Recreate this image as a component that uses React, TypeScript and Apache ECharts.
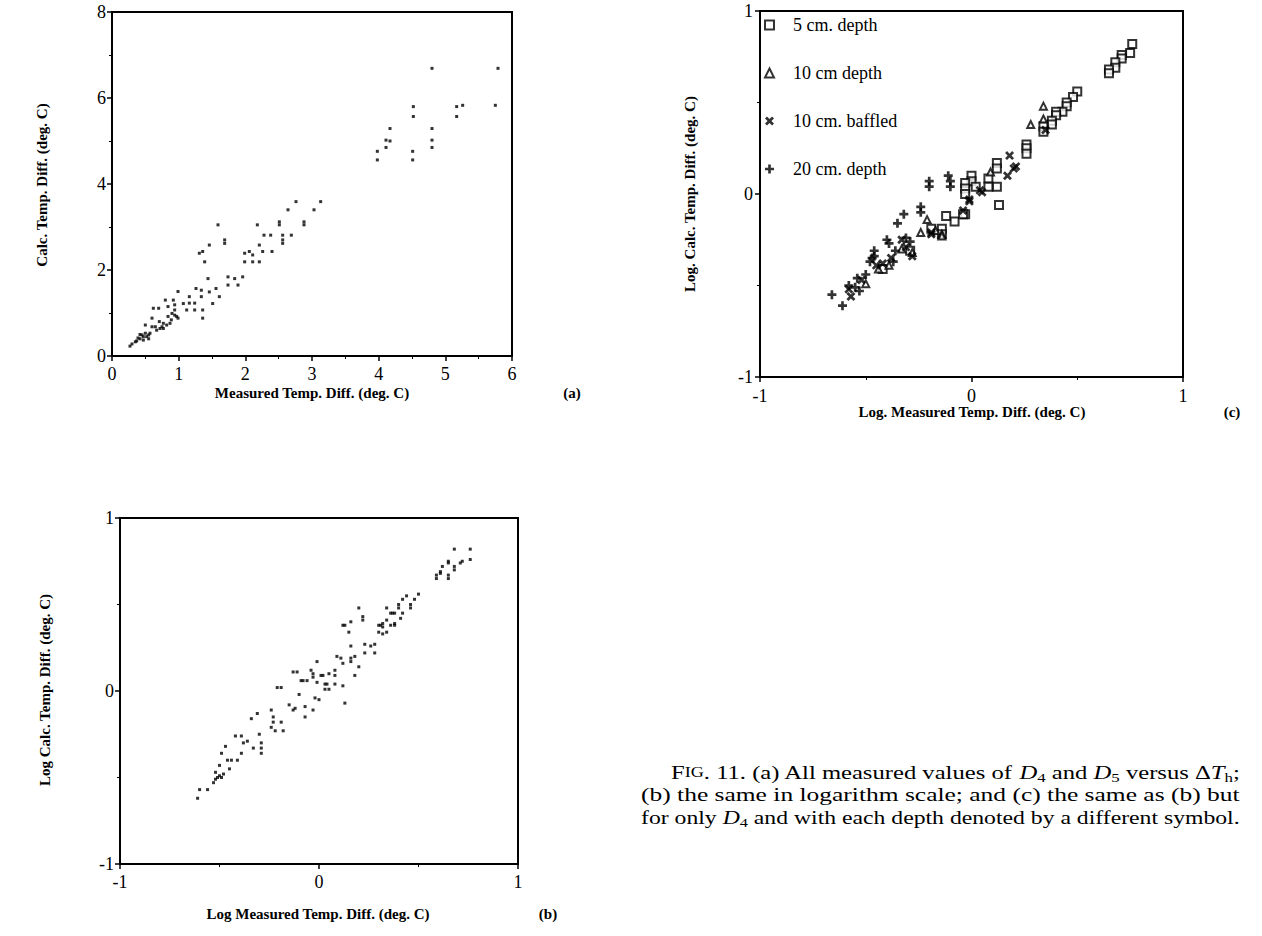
import React, { useEffect, useRef } from "react";
import * as echarts from "echarts";

const FONT = "'Liberation Serif', 'Times New Roman', serif";

// Panel (a): measured vs calculated temperature difference (deg. C)
const aPoints: number[][] = [
  [0.27, 0.23], [0.3, 0.28], [0.35, 0.33], [0.37, 0.35], [0.39, 0.42], [0.42, 0.4], [0.42, 0.5], [0.45, 0.49],
  [0.47, 0.45], [0.47, 0.37], [0.5, 0.53], [0.52, 0.45], [0.55, 0.49], [0.55, 0.4], [0.57, 0.53], [0.5, 0.72],
  [0.6, 0.88], [0.6, 0.68], [0.62, 1.11], [0.65, 0.68], [0.67, 0.6], [0.7, 1.11], [0.71, 0.8], [0.72, 0.64],
  [0.75, 0.68], [0.77, 0.76], [0.77, 0.64], [0.8, 1.3], [0.82, 0.72], [0.84, 1.15], [0.84, 0.92], [0.87, 0.76],
  [0.89, 0.84], [0.9, 0.99], [0.92, 1.3], [0.94, 1.07], [0.94, 1.19], [0.94, 0.95], [0.97, 0.92], [0.99, 1.5],
  [0.99, 0.88], [1.07, 1.22], [1.12, 1.07], [1.16, 1.38], [1.16, 1.23], [1.24, 1.23], [1.24, 1.07], [1.26, 1.57],
  [1.34, 1.53], [1.34, 1.38], [1.36, 1.07], [1.36, 0.88], [1.31, 2.39], [1.36, 2.43], [1.39, 2.19], [1.44, 1.8],
  [1.46, 2.58], [1.46, 1.49], [1.51, 1.22], [1.56, 1.57], [1.59, 3.05], [1.61, 1.38], [1.69, 2.7], [1.69, 2.62],
  [1.74, 1.84], [1.74, 1.65], [1.84, 1.8], [1.89, 1.65], [1.96, 1.84], [1.99, 2.39], [1.99, 2.19], [2.06, 2.43],
  [2.11, 2.35], [2.11, 2.19], [2.18, 3.05], [2.21, 2.58], [2.21, 2.19], [2.26, 2.43], [2.28, 2.81], [2.38, 2.81],
  [2.4, 2.43], [2.51, 3.12], [2.51, 3.05], [2.56, 2.81], [2.56, 2.7], [2.56, 2.62], [2.64, 3.4], [2.69, 2.81],
  [2.76, 3.59], [2.88, 3.12], [2.88, 3.05], [3.03, 3.4], [3.13, 3.59],
  [3.98, 4.56], [3.98, 4.76], [4.11, 4.85], [4.11, 5.02], [4.17, 5.0], [4.17, 5.29], [4.51, 4.56], [4.51, 4.76],
  [4.52, 5.57], [4.52, 5.8], [4.8, 4.85], [4.8, 5.02], [4.8, 5.29], [4.8, 6.69], [5.17, 5.57], [5.17, 5.8],
  [5.26, 5.83], [5.75, 5.83], [5.79, 6.69],
];

// Panel (b): log measured vs log calculated
const bPoints: number[][] = [
  [-0.61, -0.62], [-0.6, -0.57], [-0.56, -0.57], [-0.53, -0.53], [-0.52, -0.51], [-0.51, -0.5], [-0.5, -0.49],
  [-0.49, -0.5], [-0.48, -0.48], [-0.52, -0.47], [-0.5, -0.43], [-0.49, -0.36], [-0.47, -0.32], [-0.46, -0.4],
  [-0.45, -0.45], [-0.44, -0.4], [-0.42, -0.26], [-0.41, -0.4], [-0.39, -0.26], [-0.39, -0.36], [-0.38, -0.3],
  [-0.36, -0.29], [-0.34, -0.16], [-0.33, -0.33], [-0.31, -0.13], [-0.3, -0.25], [-0.29, -0.33], [-0.29, -0.36],
  [-0.29, -0.3], [-0.24, -0.11], [-0.24, -0.21], [-0.23, -0.15], [-0.23, -0.18], [-0.22, -0.23], [-0.21, 0.02],
  [-0.19, 0.02], [-0.19, -0.18], [-0.18, -0.23], [-0.15, -0.08],
  [-0.13, 0.11], [-0.11, 0.11], [-0.09, 0.06], [-0.08, 0.06], [-0.1, -0.02], [-0.13, -0.11], [-0.12, -0.1],
  [-0.07, -0.15], [-0.07, -0.09], [-0.06, 0.06], [-0.04, 0.12], [-0.03, 0.1], [-0.03, 0.08], [-0.03, -0.11],
  [-0.02, -0.04], [0.0, -0.05], [-0.01, 0.17], [-0.01, 0.05], [0.01, 0.09], [0.02, 0.09], [0.03, 0.04],
  [0.04, 0.04], [0.03, 0.01], [0.05, 0.01], [0.05, 0.1], [0.08, 0.12], [0.08, 0.09], [0.08, 0.04], [0.12, 0.16],
  [0.12, 0.03], [0.13, -0.07], [0.16, 0.17], [0.18, 0.09], [0.2, 0.14],
  [0.09, 0.2], [0.11, 0.19], [0.16, 0.26], [0.16, 0.19], [0.18, 0.2], [0.23, 0.27], [0.26, 0.26], [0.28, 0.27],
  [0.23, 0.22], [0.28, 0.22], [0.12, 0.38], [0.13, 0.38], [0.15, 0.34], [0.16, 0.4], [0.2, 0.48], [0.22, 0.43],
  [0.22, 0.41], [0.3, 0.38], [0.31, 0.38], [0.32, 0.39], [0.32, 0.37], [0.3, 0.34], [0.32, 0.33], [0.34, 0.34],
  [0.34, 0.41], [0.34, 0.48], [0.36, 0.45], [0.37, 0.45], [0.38, 0.45], [0.36, 0.38], [0.38, 0.38], [0.38, 0.39],
  [0.41, 0.42], [0.4, 0.5], [0.4, 0.48], [0.42, 0.45], [0.42, 0.53], [0.44, 0.55], [0.46, 0.5], [0.46, 0.48],
  [0.48, 0.53], [0.5, 0.56], [0.59, 0.67], [0.59, 0.65], [0.61, 0.69], [0.61, 0.68], [0.62, 0.72], [0.65, 0.75],
  [0.65, 0.74], [0.65, 0.67], [0.65, 0.65], [0.68, 0.7], [0.68, 0.72], [0.68, 0.82], [0.71, 0.74], [0.72, 0.75],
  [0.76, 0.82], [0.76, 0.76],
];

// Panel (c): D4 only, by depth
const cDepth5: number[][] = [
  [0.76, 0.82], [0.75, 0.77], [0.71, 0.76], [0.71, 0.74], [0.68, 0.72], [0.68, 0.69], [0.65, 0.68], [0.65, 0.66],
  [0.5, 0.56], [0.48, 0.53], [0.45, 0.5], [0.45, 0.48], [0.43, 0.45], [0.4, 0.45], [0.4, 0.43], [0.38, 0.4],
  [0.38, 0.38], [0.34, 0.37], [0.34, 0.34], [0.26, 0.27], [0.26, 0.25], [0.26, 0.22], [0.13, -0.06], [0.12, 0.17],
  [0.12, 0.14], [0.12, 0.04], [0.08, 0.085], [0.08, 0.04], [0.0, 0.1], [0.0, 0.07], [-0.03, 0.06], [-0.03, 0.03],
  [-0.03, 0.0], [0.02, 0.04], [-0.03, -0.11], [-0.08, -0.15], [-0.12, -0.12], [-0.14, -0.19], [-0.14, -0.22],
  [-0.19, -0.19], [-0.04, -0.11], [-0.42, -0.41], [-0.29, -0.31],
];
const cDepth10: number[][] = [
  [0.34, 0.48], [0.34, 0.41], [0.28, 0.38], [0.09, 0.12], [-0.14, -0.22], [-0.17, -0.2], [-0.21, -0.14],
  [-0.24, -0.21], [-0.14, -0.23], [-0.33, -0.3], [-0.28, -0.32], [-0.39, -0.39], [-0.44, -0.41], [-0.5, -0.49],
];
const cBaffled10: number[][] = [
  [0.18, 0.21], [0.21, 0.15], [0.17, 0.1], [0.2, 0.14], [0.05, 0.01], [0.04, 0.02], [-0.01, -0.03], [-0.01, -0.04],
  [-0.04, -0.09], [0.35, 0.35], [-0.19, -0.21], [-0.19, -0.22], [-0.31, -0.29], [-0.28, -0.34], [-0.33, -0.25],
  [-0.38, -0.35], [-0.42, -0.38], [-0.45, -0.39], [-0.52, -0.47], [-0.57, -0.56], [-0.58, -0.52],
];
const cDepth20: number[][] = [
  [-0.66, -0.55], [-0.61, -0.61], [-0.58, -0.5], [-0.55, -0.51], [-0.53, -0.53], [-0.54, -0.46], [-0.5, -0.44],
  [-0.48, -0.37], [-0.47, -0.35], [-0.46, -0.31], [-0.46, -0.34], [-0.4, -0.25], [-0.39, -0.27], [-0.36, -0.31],
  [-0.37, -0.37], [-0.35, -0.16], [-0.32, -0.11], [-0.31, -0.24], [-0.29, -0.26], [-0.24, -0.07], [-0.24, -0.1],
  [-0.2, 0.07], [-0.2, 0.04], [-0.11, 0.1], [-0.1, 0.07], [-0.1, 0.04],
];
const cSeriesNames = ["5 cm. depth", "10 cm depth", "10 cm. baffled", "20 cm. depth"];

// Caption lines: [text, style]
const captionLines: [string, string][][] = [
  [["F", "n"], ["IG", "sm"], [". 11. (a) All measured values of ", "n"], ["D", "i"], ["4", "sub"], [" and ", "n"],
   ["D", "i"], ["5", "sub"], [" versus Δ", "n"], ["T", "i"], ["h", "sub"], [";", "n"]],
  [["(b) the same in logarithm scale; and (c) the same as (b) but", "n"]],
  [["for only ", "n"], ["D", "i"], ["4", "sub"], [" and with each depth denoted by a different symbol.", "n"]],
];

const PLUS = "path://M-1.2,-4H1.2V-1.2H4V1.2H1.2V4H-1.2V1.2H-4V-1.2H-1.2Z";
const CROSS = "path://M2.05,-3.61L3.61,-2.05L1.56,0L3.61,2.05L2.05,3.61L0,1.56L-2.05,3.61L-3.61,2.05L-1.56,0L-3.61,-2.05L-2.05,-3.61L0,-1.56Z";

const CAP_SIZE = 19;
const capFonts: Record<string, { size: number; style: string }> = {
  n: { size: CAP_SIZE, style: "normal" },
  sm: { size: 14, style: "normal" },
  i: { size: CAP_SIZE, style: "italic" },
  sub: { size: 13, style: "normal" },
};

function axis(gridIndex: number, min: number, max: number, interval: number, margin: number) {
  return {
    type: "value",
    gridIndex,
    min,
    max,
    interval,
    axisLine: { show: true, onZero: false, lineStyle: { color: "#000", width: 2 } },
    axisTick: { show: true, inside: false, length: 5, lineStyle: { color: "#000", width: 1.5 } },
    minorTick: { show: true, splitNumber: 2, length: 3, lineStyle: { color: "#000", width: 1 } },
    splitLine: { show: false },
    minorSplitLine: { show: false },
    axisLabel: { color: "#000", fontFamily: FONT, fontSize: 18, margin, lineHeight: 18 },
  };
}

function txt(x: number, y: number, text: string, opts: any = {}) {
  return {
    type: "text",
    x,
    y,
    rotation: opts.rotation || 0,
    scaleX: opts.scaleX || 1,
    style: {
      text,
      fill: "#000",
      font: `${opts.weight || "bold"} ${opts.size || 15}px ${FONT}`,
      textAlign: opts.align || "center",
      textVerticalAlign: "middle",
      rich: opts.rich,
    },
  };
}

const capRich: any = {
  n: { fontFamily: FONT, fontSize: CAP_SIZE, color: "#000" },
  sm: { fontFamily: FONT, fontSize: 14, color: "#000" },
  i: { fontFamily: FONT, fontSize: CAP_SIZE, fontStyle: "italic", color: "#000" },
  sub: { fontFamily: FONT, fontSize: 13, color: "#000", padding: [10, 0, 0, 0] },
};

export default function App() {
  const ref = useRef<HTMLDivElement>(null);
  useEffect(() => {
    const chart = echarts.init(ref.current!, null, { renderer: "svg" });
    const ctx = document.createElement("canvas").getContext("2d")!;
    const measure = (segs: [string, string][]) => {
      let w = 0;
      for (const [t, k] of segs) {
        const f = capFonts[k];
        ctx.font = `${f.style} ${f.size}px ${FONT}`;
        w += ctx.measureText(t).width;
      }
      return w;
    };
    const capX = [671, 641, 641];
    const capY = [773, 795, 818];
    const capRight = 1240;
    const captionGraphics = captionLines.map((segs, i) => {
      const w = measure(segs);
      const s = (capRight - capX[i]) / w;
      const richText = segs.map(([t, k]) => `{${k}|${t}}`).join("");
      return txt(capX[i], capY[i], richText, { weight: "normal", size: CAP_SIZE, align: "left", rich: capRich, scaleX: s });
    });

    const gridStyle = { show: true, borderColor: "#000", borderWidth: 2, backgroundColor: "transparent", containLabel: false };
    const option: any = {
      animation: false,
      backgroundColor: "#fff",
      grid: [
        { ...gridStyle, left: 112, top: 12, width: 400, height: 344 },
        { ...gridStyle, left: 120, top: 518, width: 398, height: 346 },
        { ...gridStyle, left: 760, top: 11, width: 423, height: 366 },
      ],
      xAxis: [axis(0, 0, 6, 1, 9), axis(1, -1, 1, 1, 9), axis(2, -1, 1, 1, 10)],
      yAxis: [axis(0, 0, 8, 2, 6), axis(1, -1, 1, 1, 6), axis(2, -1, 1, 1, 7)],
      legend: {
        orient: "vertical",
        left: 764,
        top: 16,
        padding: 0,
        itemWidth: 9,
        itemHeight: 9,
        itemGap: 30,
        selectedMode: false,
        data: cSeriesNames,
        textStyle: { fontFamily: FONT, fontSize: 18, color: "#000", padding: [0, 0, 0, 14] },
      },
      series: [
        { type: "scatter", xAxisIndex: 0, yAxisIndex: 0, data: aPoints, symbol: "rect", symbolSize: 3, itemStyle: { color: "#000" } },
        { type: "scatter", xAxisIndex: 1, yAxisIndex: 1, data: bPoints, symbol: "rect", symbolSize: 3, itemStyle: { color: "#000" } },
        {
          name: cSeriesNames[0], type: "scatter", xAxisIndex: 2, yAxisIndex: 2, data: cDepth5, symbol: "rect", symbolSize: 8,
          itemStyle: { color: "#fff", borderColor: "#000", borderWidth: 2 },
        },
        {
          name: cSeriesNames[1], type: "scatter", xAxisIndex: 2, yAxisIndex: 2, data: cDepth10, symbol: "triangle", symbolSize: 7,
          itemStyle: { color: "#fff", borderColor: "#000", borderWidth: 2 },
        },
        {
          name: cSeriesNames[2], type: "scatter", xAxisIndex: 2, yAxisIndex: 2, data: cBaffled10, symbol: CROSS, symbolSize: 9,
          itemStyle: { color: "#000" },
        },
        {
          name: cSeriesNames[3], type: "scatter", xAxisIndex: 2, yAxisIndex: 2, data: cDepth20, symbol: PLUS, symbolSize: 9,
          itemStyle: { color: "#000" },
        },
      ],
      graphic: [
        txt(42, 185, "Calc. Temp. Diff. (deg. C)", { rotation: Math.PI / 2 }),
        txt(312, 393, "Measured Temp. Diff. (deg. C)"),
        txt(572, 393, "(a)"),
        txt(690, 194, "Log. Calc. Temp. Diff. (deg. C)", { rotation: Math.PI / 2 }),
        txt(972, 412, "Log. Measured Temp. Diff. (deg. C)"),
        txt(1232, 412, "(c)"),
        txt(45, 690, "Log Calc. Temp. Diff. (deg. C)", { rotation: Math.PI / 2 }),
        txt(318, 914, "Log Measured Temp. Diff. (deg. C)"),
        txt(548, 914, "(b)"),
        ...captionGraphics,
      ],
    };
    chart.setOption(option);
    return () => chart.dispose();
  }, []);
  return (
    <div
      ref={ref}
      style={{ position: "absolute", left: 0, top: 0, width: 1262, height: 936, background: "#fff" }}
    />
  );
}
